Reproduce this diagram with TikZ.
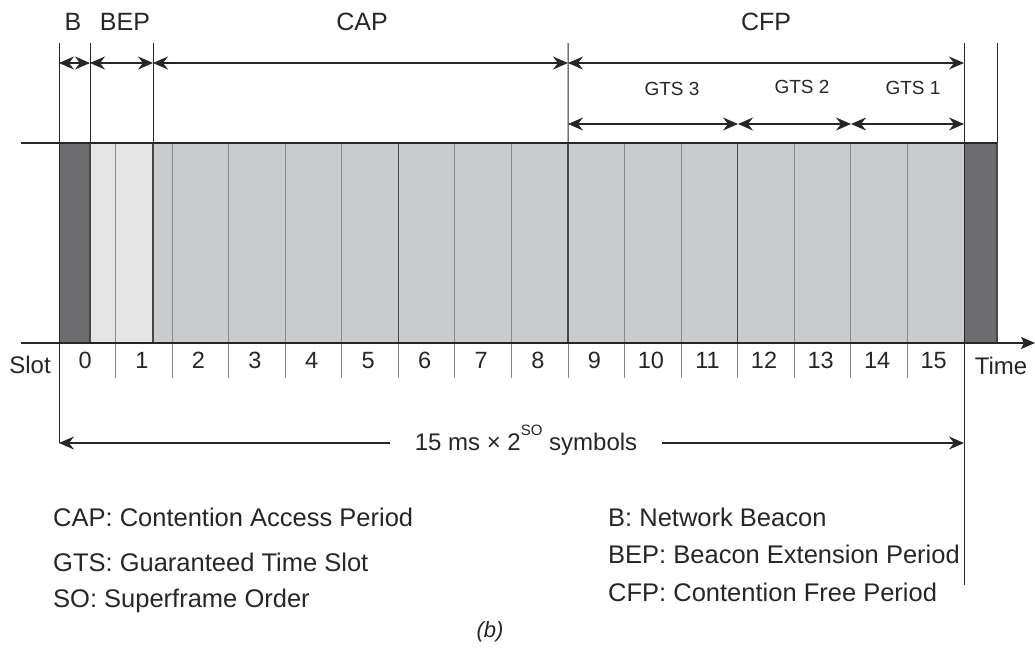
\documentclass[tikz,border=0pt]{standalone}
\usepackage{fontspec}
\setmainfont{Liberation Sans}
\usetikzlibrary{arrows.meta}
\definecolor{beacon}{HTML}{6C6C6E}
\definecolor{bepfill}{HTML}{E4E4E4}
\definecolor{slotfill}{HTML}{CACBCD}
\definecolor{ink}{HTML}{262626}
\definecolor{sepgray}{HTML}{8A8A8A}
\tikzset{
  tip/.tip={Stealth[length=15pt,width=13pt,inset=5pt]},
  axtip/.tip={Stealth[length=14pt,width=12pt,inset=3pt]},
  dim/.style={draw=ink, line width=1.4pt, tip-tip},
  onedim/.style={draw=ink, line width=1.4pt, -tip},
  guide/.style={draw=ink, line width=1pt},
  sepline/.style={draw=sepgray, line width=1.1pt},
  boldsep/.style={draw=ink!85, line width=1.2pt},
  biglbl/.style={font=\fontsize{25}{30}\selectfont, text=ink, inner sep=0pt},
  gtslbl/.style={font=\fontsize{19}{23}\selectfont, text=ink, inner sep=0pt},
  numlbl/.style={font=\fontsize{23.5}{27}\selectfont, text=ink, inner sep=0pt, anchor=base},
  legend/.style={font=\fontsize{25.5}{30}\selectfont, text=ink, inner sep=0pt, anchor=west},
}
\begin{document}
\begin{tikzpicture}[x=1pt,y=-1pt]
\useasboundingbox (0,0) rectangle (1035,648);

% slot boundaries along the bottom edge of the superframe
\foreach \i in {0,...,16}{
  \pgfmathsetmacro{\xx}{59+56.5625*\i}
  \coordinate (b\i) at (\xx,343);
  \coordinate (t\i) at (\xx,143);
  \coordinate (k\i) at (\xx,378);
}

% superframe body
\fill[slotfill] (153,143) rectangle (964,343);
\fill[bepfill] (90,143) rectangle (153,343);
\fill[beacon] (59,143) rectangle (90,343);
\fill[beacon] (964,143) rectangle (997,343);

% slot separators and ticks
\foreach \i in {1,...,15}{
  \draw[sepline] (t\i) -- (k\i);
}
\foreach \i in {6,9,12}{
  \draw[boldsep] (t\i) -- (b\i);
}
\draw[boldsep] (153,143) -- (153,343);
\draw[boldsep] (90,143) -- (90,343);
\draw[boldsep] (997,143) -- (997,343);

% vertical guides above the frame
\coordinate (gB) at (59,43);
\coordinate (gBEP) at (90,43);
\coordinate (gCAP) at (153,43);
\coordinate (gCFP) at (568,43);
\coordinate (gEnd) at (964,43);
\coordinate (gNext) at (997,43);
\draw[guide] (gBEP) -- (90,143);
\draw[guide] (gCAP) -- (153,143);
\draw[guide] (gCFP) -- (t9);
\draw[guide] (gNext) -- (997,143);
\coordinate (lowL) at (59,443);
\coordinate (lowR) at (964,443);
\coordinate (endR) at (964,585);
\draw[guide] (gB) -- (lowL);
\draw[guide] (gEnd) -- (endR);

% frame edges and time axis
\coordinate (axL) at (21,143);
\coordinate (axTR) at (997,143);
\coordinate (axBL) at (21,343);
\coordinate (axBR) at (1035,343);
\draw[ink, line width=1.6pt] (axL) -- (axTR);
\draw[ink, line width=1.6pt, -axtip] (axBL) -- (axBR);

% period dimensions
\coordinate (p0) at (59,63);
\coordinate (p1) at (90,63);
\coordinate (p2) at (153,63);
\coordinate (p3) at (568,63);
\coordinate (p4) at (964,63);
\draw[dim] (p0) -- (p1);
\draw[dim] (p1) -- (p2);
\draw[dim] (p2) -- (p3);
\draw[dim] (p3) -- (p4);

\coordinate (q0) at (568,124);
\coordinate (q1) at (738,124);
\coordinate (q2) at (851,124);
\coordinate (q3) at (964,124);
\draw[dim] (q0) -- (q1);
\draw[dim] (q1) -- (q2);
\draw[dim] (q2) -- (q3);

% period labels
\node[biglbl] (lB) at (73,22) {B};
\node[biglbl] (lBEP) at (125,22) {BEP};
\node[biglbl] (lCAP) at (362,22) {CAP};
\node[biglbl] (lCFP) at (766,22) {CFP};
\node[gtslbl] (lG3) at (672,89) {GTS 3};
\node[gtslbl] (lG2) at (802,87) {GTS 2};
\node[gtslbl] (lG1) at (913,88) {GTS 1};

% slot numbers
\foreach \i in {0,...,15}{
  \pgfmathsetmacro{\xx}{59+56.5625*(\i+0.5)-2}
  \node[numlbl] (n\i) at (\xx,368) {\i};
}
\node[biglbl, font=\fontsize{24}{28}\selectfont] (slot) at (30,365) {Slot};
\node[biglbl, font=\fontsize{24}{28}\selectfont] (time) at (1001,366) {Time};

% superframe duration
\node[biglbl, font=\fontsize{24}{28}\selectfont, inner xsep=25pt] (span) at (526,440)
  {15 ms × 2\raisebox{0.62em}{\fontsize{15}{15}\selectfont SO} symbols};
\draw[onedim] (span.west |- lowL) -- (lowL);
\draw[onedim] (span.east |- lowR) -- (lowR);

% legend
\node[legend] (l1) at (53,517) {CAP: Contention Access Period};
\node[legend] (l2) at (53,562) {GTS: Guaranteed Time Slot};
\node[legend] (l3) at (53,601) {SO: Superframe Order};
\node[legend] (r1) at (608,517) {B: Network Beacon};
\node[legend] (r2) at (608,554) {BEP: Beacon Extension Period};
\node[legend] (r3) at (608,592) {CFP: Contention Free Period};
\node[biglbl, font=\fontsize{22}{26}\selectfont\itshape] (cap) at (490,632) {(b)};
\end{tikzpicture}
\end{document}
